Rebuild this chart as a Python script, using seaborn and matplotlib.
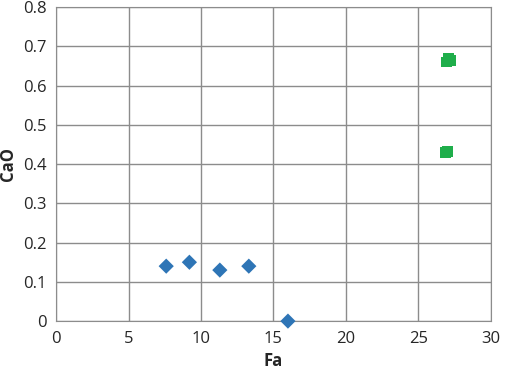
import matplotlib
matplotlib.use('Agg')
import matplotlib.pyplot as plt
import seaborn as sns
import pandas as pd

# data
fa_blue = [7.6, 9.2, 11.3, 13.3, 16.0]
cao_blue = [0.14, 0.15, 0.13, 0.14, 0.0]
fa_green = [26.95, 27.1, 27.2, 26.85, 27.0]
cao_green = [0.66, 0.67, 0.665, 0.43, 0.432]

df = pd.DataFrame({
    'Fa': fa_blue + fa_green,
    'CaO': cao_blue + cao_green,
    'group': ['a'] * len(fa_blue) + ['b'] * len(fa_green),
})

sns.set_style('white')
plt.rcParams['font.family'] = ['Open Sans', 'DejaVu Sans']

fig = plt.figure(figsize=(5.05, 3.76), dpi=100)
ax = fig.add_axes([0.111, 0.146, 0.861, 0.835])

sns.scatterplot(data=df, x='Fa', y='CaO', hue='group', style='group',
                markers={'a': 'D', 'b': 's'},
                palette={'a': '#2E75B6', 'b': '#1FAE4B'},
                s=60, edgecolor='none', legend=False, ax=ax, zorder=3)
for c in ax.collections:
    c.set_clip_on(False)

ax.set_xlim(0, 30)
ax.set_ylim(0, 0.8)
ax.set_xticks(range(0, 31, 5))
ax.set_yticks([i / 10 for i in range(9)])
ax.set_yticklabels(['0'] + ['%.1f' % (i / 10) for i in range(1, 9)])
ax.grid(True, color='#8c8c8c', linewidth=1)
ax.set_axisbelow(True)
for sp in ax.spines.values():
    sp.set_color('#8c8c8c')
ax.tick_params(labelsize=12, length=0, pad=7)
ax.set_xlabel('Fa', fontsize=12, fontweight='bold')
ax.set_ylabel('CaO', fontsize=12, fontweight='bold')

fig.savefig('out.png', dpi=100)
